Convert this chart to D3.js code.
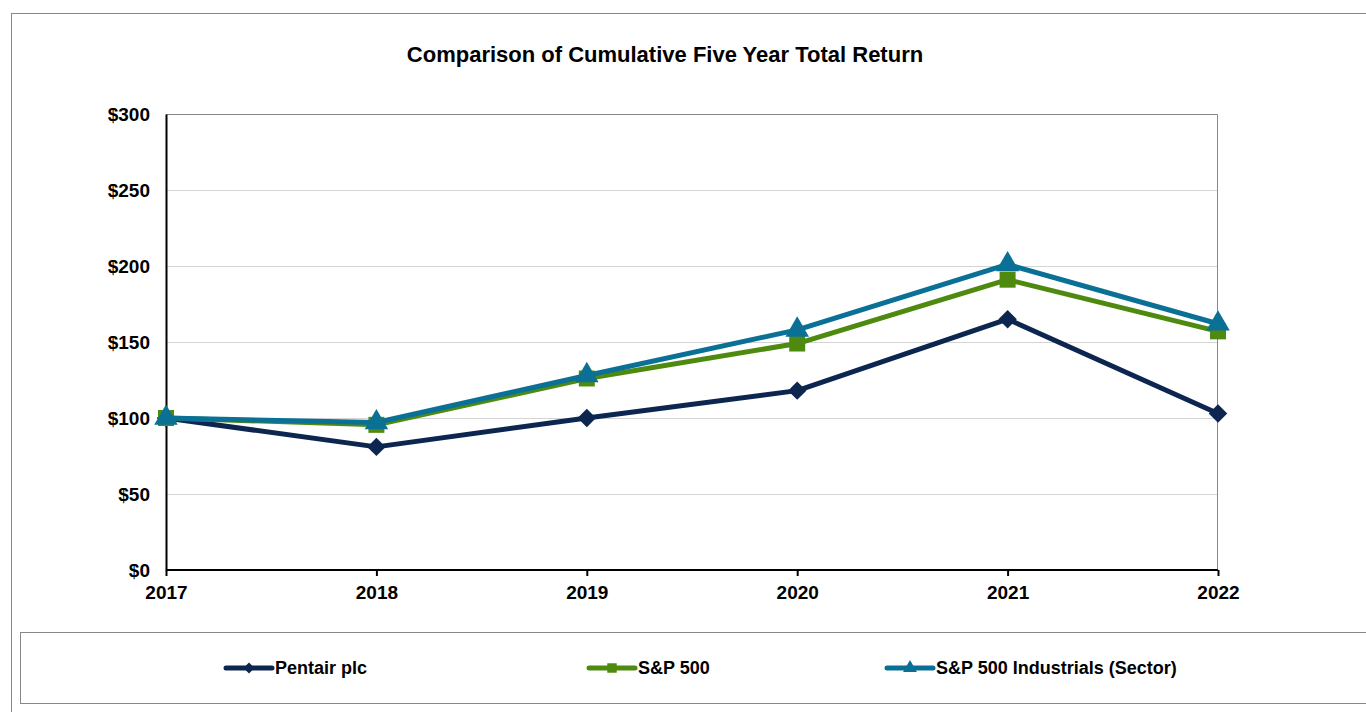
<!DOCTYPE html>
<html>
<head>
<meta charset="utf-8">
<script src="https://cdn.jsdelivr.net/npm/d3@7.9.0/dist/d3.min.js"></script>
<style>
  body { margin: 0; background: #fff; }
  svg { font-family: "Liberation Sans", Arial, sans-serif; }
</style>
</head>
<body>
<div id="chart"></div>
<script>
// data
const years = ["2017", "2018", "2019", "2020", "2021", "2022"];
const pentair = [100, 81, 100, 118, 165, 103];
const sp500 = [100, 95.5, 126, 149, 191, 157];
const industrials = [100, 97, 128, 158, 201, 162];
const yTicks = [0, 50, 100, 150, 200, 250, 300];

// diamond = square turned 45 degrees (d3's own diamond is too narrow)
const series = [
  { name: "Pentair plc", values: pentair, color: "#0d2650", symbol: d3.symbolSquare, size: 170, rot: 45 },
  { name: "S&P 500", values: sp500, color: "#4f8a10", symbol: d3.symbolSquare, size: 256, rot: 0 },
  { name: "S&P 500 Industrials (Sector)", values: industrials, color: "#0b7096", symbol: d3.symbolTriangle, size: 240, rot: 0 }
];

const W = 1366, H = 712;
const margin = { top: 114, right: 148, bottom: 142, left: 166 };
const width = W - margin.left - margin.right,
      height = H - margin.top - margin.bottom;

const svg = d3.select("#chart").append("svg")
  .attr("width", W)
  .attr("height", H);

// outer chart frame
svg.append("rect")
  .attr("x", 11.5).attr("y", 13.5)
  .attr("width", W + 10).attr("height", H + 10)
  .attr("fill", "none").attr("stroke", "#888").attr("stroke-width", 1);

svg.append("text")
  .attr("x", 665).attr("y", 62)
  .attr("text-anchor", "middle")
  .style("font-size", "22px").style("font-weight", "bold")
  .text("Comparison of Cumulative Five Year Total Return");

const g = svg.append("g").attr("transform", `translate(${margin.left},${margin.top})`);

const x = d3.scalePoint().domain(years).range([0, width]);
const y = d3.scaleLinear().domain([0, 300]).range([height, 0]);

// gridlines
g.selectAll(".grid")
  .data(yTicks.slice(1, -1))
  .join("line")
    .attr("x1", 0).attr("x2", width)
    .attr("y1", d => y(d) + 0.5).attr("y2", d => y(d) + 0.5)
    .attr("stroke", "#d4d4d4");

// plot frame top / right
g.append("path")
  .attr("d", `M0,0.5H${width - 0.5}V${height}`)
  .attr("fill", "none").attr("stroke", "#888");

// axes
const yAxis = g.append("g")
  .call(d3.axisLeft(y).tickValues(yTicks).tickFormat(d => "$" + d).tickSize(0).tickPadding(16));
const xAxis = g.append("g")
  .attr("transform", `translate(0,${height})`)
  .call(d3.axisBottom(x).tickSize(6).tickPadding(10));

[yAxis, xAxis].forEach(a => {
  a.select(".domain").attr("stroke", "#000").attr("stroke-width", 2);
  a.selectAll("text")
    .attr("fill", "#000")
    .style("font-size", "19px").style("font-weight", "bold")
    .style("font-family", "'Liberation Sans', Arial, sans-serif");
  a.selectAll(".tick line").attr("stroke", "#000").attr("stroke-width", 2);
});
yAxis.selectAll("text").attr("dy", "0.35em");
xAxis.select(".domain").attr("d", `M0,0H${width}`);

const line = d3.line().x((d, i) => x(years[i])).y(d => y(d));

series.forEach(s => {
  g.append("path")
    .datum(s.values)
    .attr("d", line)
    .attr("fill", "none")
    .attr("stroke", s.color)
    .attr("stroke-width", 5)
    .attr("stroke-linejoin", "round");
  g.selectAll(null)
    .data(s.values)
    .join("path")
      .attr("transform", (d, i) => `translate(${x(years[i])},${y(d)}) rotate(${s.rot})`)
      .attr("d", d3.symbol().type(s.symbol).size(s.size))
      .attr("fill", s.color);
});

// legend box
svg.append("rect")
  .attr("x", 20.5).attr("y", 632.5)
  .attr("width", W).attr("height", 71)
  .attr("fill", "none").attr("stroke", "#888");

const legendX = [226, 589, 887];
const legend = svg.selectAll(".legend-item")
  .data(series)
  .join("g")
    .attr("class", "legend-item")
    .attr("transform", (d, i) => `translate(${legendX[i]},668)`);

legend.append("line")
  .attr("x1", 0).attr("x2", 46)
  .attr("stroke", d => d.color).attr("stroke-width", 5).attr("stroke-linecap", "round");
legend.append("path")
  .attr("transform", d => `translate(23,0) rotate(${d.rot})`)
  .attr("d", d => d3.symbol().type(d.symbol).size(d.size * 0.35)())
  .attr("fill", d => d.color);
legend.append("text")
  .attr("x", 49).attr("dy", "0.35em")
  .style("font-size", "18px").style("font-weight", "bold")
  .text(d => d.name);
</script>
</body>
</html>
